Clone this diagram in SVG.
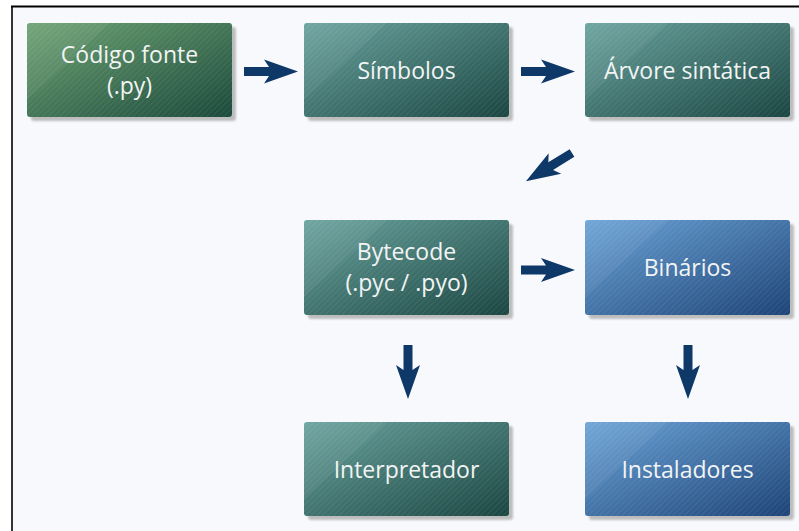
<svg xmlns="http://www.w3.org/2000/svg" width="799" height="531" viewBox="0 0 799 531">
<defs>
<linearGradient id="gGreen" x1="0" y1="0" x2="1" y2="1">
<stop offset="0" stop-color="#6ca272"/><stop offset="1" stop-color="#1c4a3c"/>
</linearGradient>
<linearGradient id="gTeal" x1="0" y1="0" x2="1" y2="1">
<stop offset="0" stop-color="#68a29d"/><stop offset="1" stop-color="#1b4642"/>
</linearGradient>
<linearGradient id="gBlue" x1="0" y1="0" x2="1" y2="1">
<stop offset="0" stop-color="#6aa2d6"/><stop offset="1" stop-color="#1d4478"/>
</linearGradient>
<pattern id="hatch" width="4" height="4" patternUnits="userSpaceOnUse" patternTransform="rotate(45)">
<rect x="0" y="0" width="1" height="4" fill="#ffffff" fill-opacity="0.07"/>
</pattern>
<filter id="sh" x="-10%" y="-10%" width="130%" height="130%">
<feGaussianBlur stdDeviation="1.2"/>
</filter>
<path id="arr" d="M0,-4.5 L25,-4.5 L20,-12 L54,0 L20,12 L25,4.5 L0,4.5 Z"/>
</defs>
<style>
.shadow{fill:#bdbdbd;filter:url(#sh)}
.hatch{fill:url(#hatch)}
.gloss{fill:#ffffff;fill-opacity:0.06}
.lbl{font-family:"Open Sans","Noto Sans",sans-serif;font-size:23px;fill:#f2f4f4;text-anchor:middle}
.arrow{fill:#0d3867}
</style>
<rect x="0" y="0" width="799" height="531" fill="#ffffff"/>
<rect x="12" y="6" width="787" height="525" fill="#f8f9fd"/>
<line x1="11" y1="6.5" x2="799" y2="6.5" stroke="#000" stroke-width="2"/>
<line x1="12" y1="6" x2="12" y2="531" stroke="#000" stroke-width="1.6"/>

<g id="codigo">
<rect class="shadow" x="31" y="27" width="205" height="94" rx="3"/>
<rect x="27" y="23" width="205" height="94" rx="3" fill="url(#gGreen)"/>
<rect class="hatch" x="27" y="23" width="205" height="94" rx="3"/>
<path class="gloss" d="M30,23 L110,23 L27,100 L27,26 Z"/>
<text class="lbl" x="129.5" y="62.5">Código fonte</text>
<text class="lbl" x="129.5" y="93.5">(.py)</text>
</g>
<g id="simbolos">
<rect class="shadow" x="308" y="27" width="205" height="94" rx="3"/>
<rect x="304" y="23" width="205" height="94" rx="3" fill="url(#gTeal)"/>
<rect class="hatch" x="304" y="23" width="205" height="94" rx="3"/>
<path class="gloss" d="M307,23 L387,23 L304,100 L304,26 Z"/>
<text class="lbl" x="406.5" y="78.5">Símbolos</text>
</g>
<g id="arvore">
<rect class="shadow" x="589" y="27" width="205" height="94" rx="3"/>
<rect x="585" y="23" width="205" height="94" rx="3" fill="url(#gTeal)"/>
<rect class="hatch" x="585" y="23" width="205" height="94" rx="3"/>
<path class="gloss" d="M588,23 L668,23 L585,100 L585,26 Z"/>
<text class="lbl" x="687.5" y="78.5">Árvore sintática</text>
</g>
<g id="bytecode">
<rect class="shadow" x="308" y="224" width="205" height="95" rx="3"/>
<rect x="304" y="220" width="205" height="95" rx="3" fill="url(#gTeal)"/>
<rect class="hatch" x="304" y="220" width="205" height="95" rx="3"/>
<path class="gloss" d="M307,220 L387,220 L304,297 L304,223 Z"/>
<text class="lbl" x="406.5" y="259.5">Bytecode</text>
<text class="lbl" x="406.5" y="290.5">(.pyc / .pyo)</text>
</g>
<g id="binarios">
<rect class="shadow" x="589" y="224" width="205" height="95" rx="3"/>
<rect x="585" y="220" width="205" height="95" rx="3" fill="url(#gBlue)"/>
<rect class="hatch" x="585" y="220" width="205" height="95" rx="3"/>
<path class="gloss" d="M588,220 L668,220 L585,297 L585,223 Z"/>
<text class="lbl" x="687.5" y="276">Binários</text>
</g>
<g id="interpretador">
<rect class="shadow" x="308" y="426" width="205" height="94" rx="3"/>
<rect x="304" y="422" width="205" height="94" rx="3" fill="url(#gTeal)"/>
<rect class="hatch" x="304" y="422" width="205" height="94" rx="3"/>
<path class="gloss" d="M307,422 L387,422 L304,499 L304,425 Z"/>
<text class="lbl" x="406.5" y="477.5">Interpretador</text>
</g>
<g id="instaladores">
<rect class="shadow" x="589" y="426" width="205" height="94" rx="3"/>
<rect x="585" y="422" width="205" height="94" rx="3" fill="url(#gBlue)"/>
<rect class="hatch" x="585" y="422" width="205" height="94" rx="3"/>
<path class="gloss" d="M588,422 L668,422 L585,499 L585,425 Z"/>
<text class="lbl" x="687.5" y="477.5">Instaladores</text>
</g>

<g id="connectors" class="arrow">
<use href="#arr" transform="translate(244,71.5)"/>
<use href="#arr" transform="translate(521,71.5)"/>
<use href="#arr" transform="translate(572,153) rotate(148.5)"/>
<use href="#arr" transform="translate(521,270)"/>
<use href="#arr" transform="translate(408,345) rotate(90)"/>
<use href="#arr" transform="translate(688,345) rotate(90)"/>
</g>
</svg>
